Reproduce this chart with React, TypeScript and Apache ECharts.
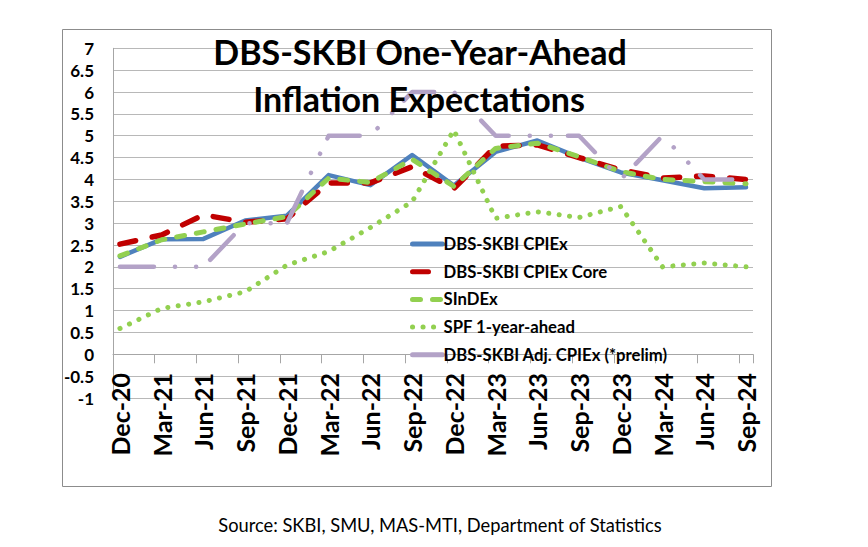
import React, { useEffect, useRef } from "react";
import * as echarts from "echarts";

const quarterLabels = [
  "Dec-20", "Mar-21", "Jun-21", "Sep-21", "Dec-21", "Mar-22", "Jun-22", "Sep-22",
  "Dec-22", "Mar-23", "Jun-23", "Sep-23", "Dec-23", "Mar-24", "Jun-24", "Sep-24",
];
const monthNames = ["Jan", "Feb", "Mar", "Apr", "May", "Jun", "Jul", "Aug", "Sep", "Oct", "Nov", "Dec"];

const cpiex = [2.23, 2.63, 2.64, 3.06, 3.17, 4.1, 3.87, 4.56, 3.86, 4.63, 4.89, 4.5, 4.16, 3.98, 3.8, 3.82];
const cpiexCore = [2.52, 2.73, 3.19, 3.02, 3.1, 3.92, 3.92, 4.29, 3.79, 4.76, 4.79, 4.5, 4.22, 4.03, 4.08, 4.0];
const sindex = [2.25, 2.62, 2.8, 2.98, 3.15, 4.03, 3.93, 4.46, 3.84, 4.71, 4.83, 4.52, 4.18, 4.0, 3.95, 3.9];
const spf = [0.59, 1.05, 1.2, 1.43, 2.04, 2.35, 2.9, 3.49, 5.13, 3.11, 3.26, 3.13, 3.38, 2.0, 2.09, 2.0];
const adjCpiex = [2.0, 2.0, 2.0, 3.0, 3.0, 5.0, 5.0, 6.0, 6.0, 5.0, 5.0, 5.0, 4.0, 5.0, 4.0, 4.0];

const seriesNames = [
  "DBS-SKBI CPIEx",
  "DBS-SKBI CPIEx Core",
  "SInDEx",
  "SPF 1-year-ahead",
  "DBS-SKBI Adj. CPIEx (*prelim)",
];

// monthly category axis from Dec-20 to Sep-24; quarterly values sit on every third month
const months: string[] = [];
for (let i = 0; i < (quarterLabels.length - 1) * 3 + 1; i++) {
  const m = (11 + i) % 12;
  const y = 20 + Math.floor((11 + i) / 12);
  months.push(monthNames[m] + "-" + y);
}
const toMonthly = (vals: number[]) => {
  const out: (number | null)[] = months.map(() => null);
  vals.forEach((v, k) => {
    out[k * 3] = v;
  });
  return out;
};

const FONT = "Lato, 'Open Sans', sans-serif";

export default function App() {
  const ref = useRef<HTMLDivElement>(null);
  useEffect(() => {
    if (!ref.current) return;
    const chart = echarts.init(ref.current, undefined, { renderer: "svg" });
    const lineBase = {
      type: "line" as const,
      xAxisIndex: 0,
      yAxisIndex: 0,
      symbol: "none",
      showSymbol: false,
      connectNulls: true,
      smooth: false,
    };
    const hidden = { opacity: 0, borderWidth: 0 };
    chart.setOption({
      animation: false,
      backgroundColor: "#ffffff",
      grid: { left: 113, right: 115, top: 48.3, bottom: 149, containLabel: false },
      legend: {
        orient: "vertical",
        left: 410,
        top: 235,
        padding: 0,
        itemWidth: 30,
        itemHeight: 18,
        itemGap: 9.7,
        data: seriesNames,
        itemStyle: { opacity: 0, borderWidth: 0 },
        lineStyle: { width: 5 },
        textStyle: {
          fontFamily: FONT,
          fontWeight: "bold",
          fontSize: 16.7,
          lineHeight: 18,
          color: "#000",
          padding: [0, 0, 0, -4],
        },
      },
      xAxis: [
        {
          type: "category",
          data: months,
          boundaryGap: true,
          position: "bottom",
          axisLine: { show: true, onZero: true, lineStyle: { color: "#a6a6a6", width: 1 } },
          axisTick: { show: true, interval: 2, length: 9, lineStyle: { color: "#a6a6a6" } },
          axisLabel: { show: false },
          splitLine: { show: false },
        },
        {
          type: "category",
          data: months,
          boundaryGap: true,
          position: "bottom",
          axisLine: { show: false, onZero: false },
          axisTick: { show: false },
          axisLabel: {
            show: true,
            interval: 2,
            rotate: 90,
            margin: -25,
            fontFamily: FONT,
            fontWeight: "bold",
            fontSize: 25,
            color: "#000",
          },
          splitLine: { show: false },
        },
      ],
      yAxis: {
        type: "value",
        min: -1,
        max: 7,
        interval: 0.5,
        axisLine: { show: true, lineStyle: { color: "#a6a6a6", width: 1 } },
        axisTick: { show: false },
        axisLabel: {
          margin: 19,
          fontFamily: FONT,
          fontWeight: "bold",
          fontSize: 17,
          color: "#000",
          formatter: (v: number) => String(v),
        },
        splitLine: { show: true, lineStyle: { color: "#b8b8b8", width: 1 } },
      },
      series: [
        {
          ...lineBase,
          name: seriesNames[0],
          data: toMonthly(cpiex),
          lineStyle: { color: "#4f81bd", width: 4.5, cap: "round", join: "round" },
          itemStyle: { color: "#4f81bd", ...hidden },
        },
        {
          ...lineBase,
          name: seriesNames[1],
          data: toMonthly(cpiexCore),
          lineStyle: { color: "#c00000", width: 5.5, type: [16, 17], cap: "round", join: "round" },
          itemStyle: { color: "#c00000", ...hidden },
        },
        {
          ...lineBase,
          name: seriesNames[2],
          data: toMonthly(sindex),
          lineStyle: { color: "#92d050", width: 5, type: [8, 12], cap: "round", join: "round" },
          itemStyle: { color: "#92d050", ...hidden },
        },
        {
          ...lineBase,
          name: seriesNames[3],
          data: toMonthly(spf),
          lineStyle: { color: "#92d050", width: 5, type: [0.1, 10.4], cap: "round", join: "round" },
          itemStyle: { color: "#92d050", ...hidden },
        },
        {
          ...lineBase,
          name: seriesNames[4],
          data: toMonthly(adjCpiex),
          lineStyle: { color: "#b3a2c7", width: 4.5, type: [34, 21, 0.1, 21, 0.1, 17], cap: "round", join: "round" },
          itemStyle: { color: "#b3a2c7", ...hidden },
        },
      ],
      graphic: [
        {
          type: "rect",
          silent: true,
          z: -1,
          shape: { x: 62.5, y: 29.5, width: 709, height: 457 },
          style: { fill: "none", stroke: "#8c8c8c", lineWidth: 1 },
        },
        {
          type: "text",
          x: 420,
          y: 51,
          z: 100,
          style: {
            text: "DBS-SKBI One-Year-Ahead",
            align: "center",
            verticalAlign: "middle",
            fontFamily: FONT,
            fontWeight: "bold",
            fontSize: 34,
            fill: "#000",
          },
        },
        {
          type: "text",
          x: 419,
          y: 98,
          z: 100,
          style: {
            text: "Inflation Expectations",
            align: "center",
            verticalAlign: "middle",
            fontFamily: FONT,
            fontWeight: "bold",
            fontSize: 34,
            fill: "#000",
          },
        },
        {
          type: "text",
          x: 440,
          y: 525,
          style: {
            text: "Source: SKBI, SMU, MAS-MTI, Department of Statistics",
            align: "center",
            verticalAlign: "middle",
            fontFamily: FONT,
            fontSize: 18.3,
            fill: "#000",
          },
        },
      ],
    });
    return () => chart.dispose();
  }, []);
  return (
    <div
      ref={ref}
      style={{ position: "fixed", left: 0, top: 0, width: 868, height: 547, background: "#fff" }}
    />
  );
}
